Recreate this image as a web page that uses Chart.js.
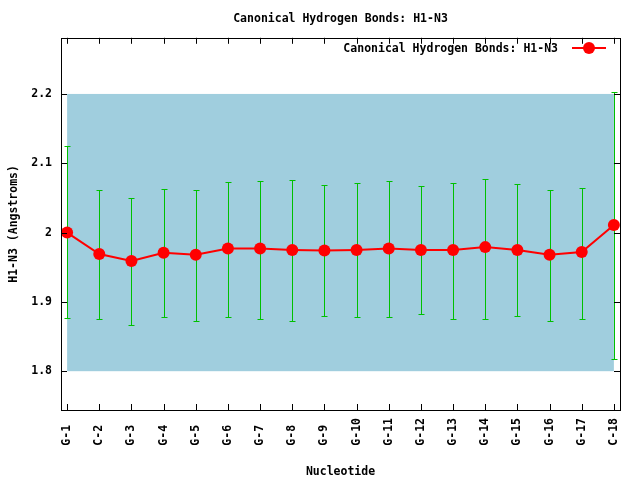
<!DOCTYPE html>
<html>
<head>
<meta charset="utf-8">
<script src="https://cdn.jsdelivr.net/npm/chart.js@4/dist/chart.umd.min.js"></script>
<style>
  html, body { margin: 0; padding: 0; background: #fff; }
  #wrap { width: 640px; height: 480px; }
</style>
</head>
<body>
<div id="wrap"><canvas id="c" width="640" height="480"></canvas></div>
<script>
const categories = ["G-1","C-2","G-3","G-4","G-5","G-6","G-7","G-8","G-9","G-10","G-11","G-12","G-13","G-14","G-15","G-16","G-17","C-18"];
const meanValues = [2.000,1.969,1.959,1.971,1.968,1.977,1.977,1.975,1.974,1.975,1.977,1.975,1.975,1.979,1.975,1.968,1.972,2.011];
const errLow  = [1.877,1.875,1.867,1.878,1.872,1.878,1.876,1.872,1.879,1.878,1.878,1.882,1.875,1.876,1.879,1.873,1.876,1.817];
const errHigh = [2.125,2.062,2.050,2.063,2.061,2.073,2.074,2.076,2.069,2.071,2.075,2.067,2.072,2.078,2.070,2.061,2.065,2.203];
const yTickValues = [1.8, 1.9, 2.0, 2.1, 2.2];
const yTickLabels = ["1.8", "1.9", "2", "2.1", "2.2"];
const bandLow = 1.8;
const bandHigh = 2.2;
const titleText = "Canonical Hydrogen Bonds: H1-N3";
const seriesLabel = "Canonical Hydrogen Bonds: H1-N3";

const FONT = "'DejaVu Sans Mono', 'Liberation Mono', monospace";
const font = { family: FONT, size: 11.5, weight: 'bold' };

const bandPlugin = {
  id: 'band',
  beforeDatasetsDraw(chart) {
    const { ctx, scales: { x, y } } = chart;
    const x0 = x.getPixelForValue(0), x1 = x.getPixelForValue(categories.length - 1);
    const y0 = y.getPixelForValue(bandHigh), y1 = y.getPixelForValue(bandLow);
    ctx.save();
    ctx.fillStyle = 'rgb(160,206,222)';
    ctx.fillRect(x0, y0, x1 - x0, y1 - y0);
    // error bars
    ctx.strokeStyle = '#00c000';
    ctx.lineWidth = 1;
    for (let i = 0; i < categories.length; i++) {
      const px = Math.round(x.getPixelForValue(i)) + 0.5;
      const ph = Math.round(y.getPixelForValue(errHigh[i])) + 0.5;
      const pl = Math.round(y.getPixelForValue(errLow[i])) + 0.5;
      ctx.beginPath();
      ctx.moveTo(px, ph); ctx.lineTo(px, pl);
      ctx.moveTo(px - 3, ph); ctx.lineTo(px + 3, ph);
      ctx.moveTo(px - 3, pl); ctx.lineTo(px + 3, pl);
      ctx.stroke();
    }
    ctx.restore();
  },
  afterDraw(chart) {
    const { ctx, chartArea: a, scales: { x, y } } = chart;
    ctx.save();
    ctx.strokeStyle = '#000';
    ctx.lineWidth = 1;
    ctx.strokeRect(Math.round(a.left) + 0.5, Math.round(a.top) + 0.5, Math.round(a.right - a.left), Math.round(a.bottom - a.top));
    ctx.beginPath();
    x.ticks.forEach((t, i) => {
      const px = Math.round(x.getPixelForTick(i)) + 0.5;
      ctx.moveTo(px, a.bottom); ctx.lineTo(px, a.bottom - 6);
      ctx.moveTo(px, a.top); ctx.lineTo(px, a.top + 6);
    });
    y.ticks.forEach((t, i) => {
      const py = Math.round(y.getPixelForTick(i)) + 0.5;
      ctx.moveTo(a.left, py); ctx.lineTo(a.left + 6, py);
      ctx.moveTo(a.right, py); ctx.lineTo(a.right - 6, py);
    });
    ctx.stroke();
    // legend
    const ly = 48;
    ctx.font = `bold 11.5px ${FONT}`;
    ctx.fillStyle = '#000';
    ctx.textAlign = 'right';
    ctx.textBaseline = 'middle';
    ctx.fillText(chart.data.datasets[0].label, 558, ly + 1);
    ctx.strokeStyle = 'red';
    ctx.lineWidth = 2;
    ctx.beginPath(); ctx.moveTo(572, ly); ctx.lineTo(606, ly); ctx.stroke();
    ctx.fillStyle = 'red';
    ctx.beginPath(); ctx.arc(589, ly, 6, 0, Math.PI * 2); ctx.fill();
    ctx.restore();
  }
};

new Chart(document.getElementById('c'), {
  type: 'line',
  data: {
    datasets: [{
      label: seriesLabel,
      data: meanValues.map((v, i) => ({ x: i, y: v })),
      borderColor: 'red',
      backgroundColor: 'red',
      borderWidth: 2,
      pointRadius: 6,
      pointHoverRadius: 6,
      pointBorderWidth: 0,
      tension: 0
    }]
  },
  options: {
    responsive: false,
    animation: false,
    events: [],
    layout: { padding: { left: 0, right: 20, top: 0, bottom: 0 } },
    plugins: {
      legend: { display: false },
      tooltip: { enabled: false },
      title: {
        display: true,
        fullSize: false,
        text: titleText,
        color: '#000',
        font: font,
        padding: { top: 12, bottom: 12 }
      }
    },
    scales: {
      x: {
        type: 'linear',
        min: -0.19,
        max: categories.length - 1 + 0.19,
        afterBuildTicks(scale) { scale.ticks = categories.map((c, i) => ({ value: i })); },
        afterFit(scale) { scale.height = 70; },
        grid: { display: false, drawTicks: false },
        border: { display: false },
        ticks: {
          autoSkip: false,
          maxRotation: 90,
          minRotation: 90,
          padding: 8,
          color: '#000',
          font: font,
          callback: (v) => (categories[v] || '').padEnd(4, ' ')
        },
        title: { display: true, text: 'Nucleotide', color: '#000', font: font, padding: { top: 1, bottom: 1 } }
      },
      y: {
        type: 'linear',
        min: 1.744,
        max: 2.281,
        afterBuildTicks(scale) { scale.ticks = yTickValues.map(v => ({ value: v })); },
        afterFit(scale) { scale.width = 61; },
        grid: { display: false, drawTicks: false },
        border: { display: false },
        ticks: {
          padding: 9,
          color: '#000',
          font: font,
          callback: (v) => yTickLabels[yTickValues.indexOf(v)]
        },
        title: { display: true, text: 'H1-N3 (Angstroms)', color: '#000', font: font, padding: { top: 7, bottom: 1 } }
      }
    }
  },
  plugins: [bandPlugin]
});
</script>
</body>
</html>
